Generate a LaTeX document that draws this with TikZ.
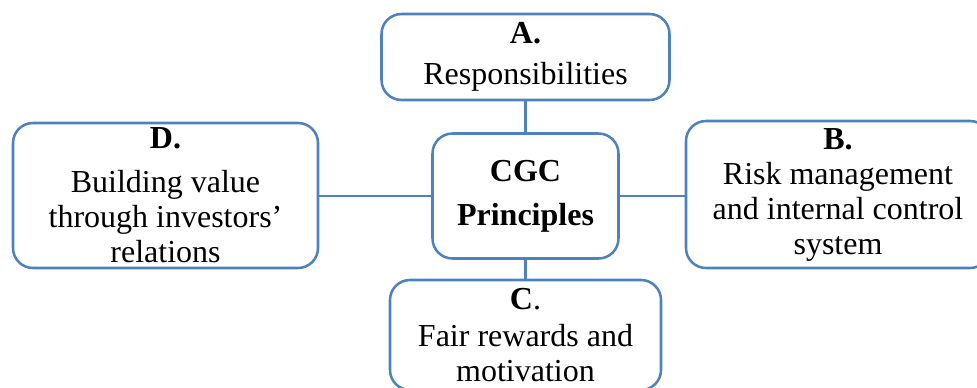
\documentclass[tikz,border=0pt]{standalone}
\usepackage{fontspec}
\setmainfont{Liberation Serif}
\definecolor{cgcblue}{RGB}{79,129,189}
\begin{document}
\begin{tikzpicture}[
            x=0.75pt, y=-0.75pt,
            branch/.style={
                rectangle,
                rounded corners=15pt,
                draw=cgcblue,
                line width=1.9pt,
                fill=white,
                align=center,
                inner sep=0pt,
                font=\fontsize{24}{26.25}\selectfont
            },
            hub/.style={
                branch,
                minimum width=139.5pt,
                minimum height=93.75pt,
                font=\fontsize{24}{33}\selectfont\bfseries
            },
            link/.style={draw=cgcblue, line width=1.9pt}
        ]
        
        % Page frame, boxes at the edge are cut off
        \clip (0,0) rectangle (977,387);
        
        \coordinate (hc) at (525.5,196);
        
        % Central box
        \node[hub] (cgc) at (hc) {CGC\\Principles};
        
        % Principle boxes
        \node[branch, minimum width=216pt, minimum height=64.5pt] (pa) at (525.5,57)
            {\textbf{A.}\\[5pt]Responsibilities};
        \node[branch, minimum width=228pt, minimum height=110.25pt] (pb) at (838,194.5)
            {\textbf{B.}\\Risk management\\and internal control\\system};
        \node[branch, minimum width=203.25pt, minimum height=82.5pt] (pc) at (525.5,335)
            {\textbf{C}.\\[2pt]Fair rewards and\\motivation};
        \node[branch, minimum width=228.75pt, minimum height=108.75pt] (pd) at (165.5,195.5)
            {\textbf{D.}\\[7pt]Building value\\through investors'\\relations};
        
        % Connecting lines
        \draw[link] (pa.south) -- (cgc.north);
        \draw[link] (cgc.south) -- (pc.north);
        \draw[link] (cgc.west) -- (cgc.west -| pd.east);
        \draw[link] (cgc.east) -- (cgc.east -| pb.west);
        
        \end{tikzpicture}
\end{document}
